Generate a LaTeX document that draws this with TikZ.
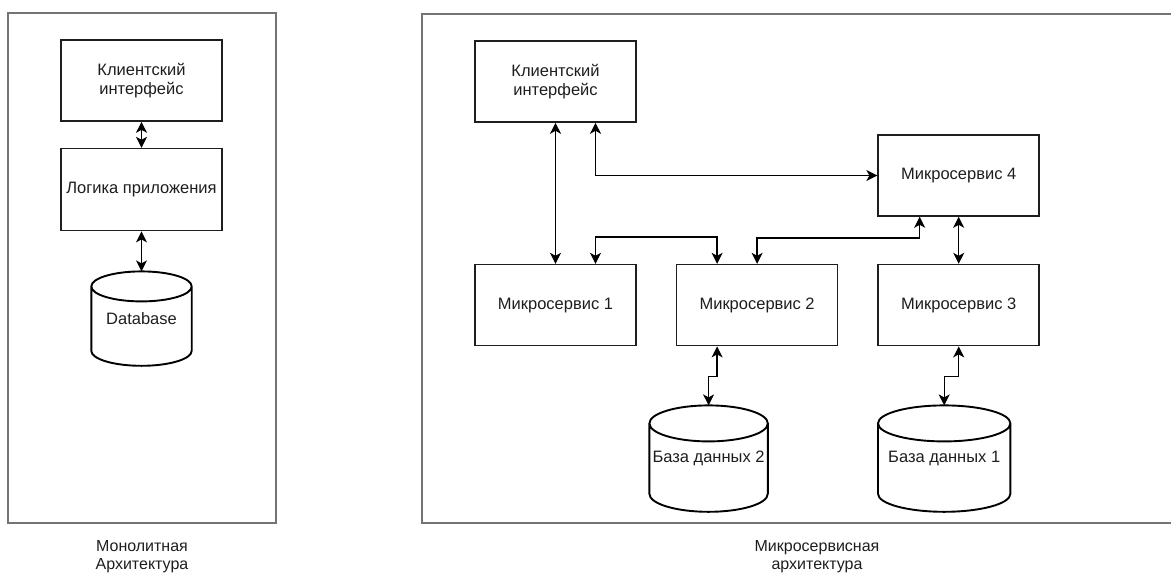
\documentclass[tikz,border=0pt]{standalone}
\usepackage{fontspec}
\setmainfont{Liberation Sans}
\usepackage{tikz}
\usetikzlibrary{arrows.meta, positioning, calc}
\usepackage{xcolor}
\definecolor{framegray}{HTML}{747474}
\definecolor{inkgray}{HTML}{1E1E1E}
\tikzset{
  panel/.style={
    rectangle, draw=framegray, line width=1.6pt, fill=white
  },
  svc/.style={
    rectangle, draw=inkgray, line width=1.6pt, fill=white,
    minimum width=161pt, minimum height=81pt, align=center,
    text=inkgray, font=\fontsize{16.5}{19}\selectfont
  },
  dbnode/.style={
    rectangle, minimum width=#1, align=center, inner sep=0pt,
    text=inkgray, font=\fontsize{16.5}{19}\selectfont
  },
  dbline/.style={draw=black, line width=1.9pt},
  caption/.style={
    align=center, text=inkgray, font=\fontsize{16}{18}\selectfont
  },
  link/.style={
    {Stealth[length=11pt, width=11pt, inset=3pt]}-{Stealth[length=11pt, width=11pt, inset=3pt]},
    line width=1.4pt, draw=black
  }
}
% cylinder drawn around a plain node: name, cap radius
\newcommand{\dbshape}[2]{%
  \draw[dbline] let \p1=(#1.west), \p2=(#1.east), \n1={(\x2-\x1)/2} in
    ([yshift=-#2]#1.north west) -- ([yshift=#2]#1.south west)
    arc[start angle=180, end angle=360, x radius=\n1*1pt, y radius=#2]
    -- ([yshift=-#2]#1.north east)
    ([yshift=-#2]#1.north) ellipse[x radius=\n1*1pt, y radius=#2];
}

\begin{document}
\begin{tikzpicture}[x=1pt, y=-1pt]
        \useasboundingbox (0,0) rectangle (1171,574);
        \node[panel, minimum width=268pt, minimum height=510pt] (mono) at (142,268) {};
        \node[panel, minimum width=760pt, minimum height=509pt] (micro) at (802,268.5) {};

        \node[svc] (cli) at (141.5,80.5) {Клиентский\\интерфейс};
        \node[svc, minimum height=82pt, below=26pt of cli] (logic) {Логика приложения};
        \node[dbnode=100pt, minimum height=94pt, below=40pt of logic] (db) {Database};
        \dbshape{db}{15pt}

        \node[svc] (rcli) at (555.5,81.5) {Клиентский\\интерфейс};
        \node[svc, below=141pt of rcli] (ms1) {Микросервис 1};
        \node[svc, right=39pt of ms1] (ms2) {Микросервис 2};
        \node[svc, right=39pt of ms2] (ms3) {Микросервис 3};
        \node[svc, above=47pt of ms3] (ms4) {Микросервис 4};
        \node[dbnode=118pt, minimum height=106pt, below=59pt of ms2, xshift=-48.5pt] (db2) {База данных 2};
        \node[dbnode=132pt, minimum height=106pt, below=59pt of ms3, xshift=-14.5pt] (db1) {База данных 1};
        \dbshape{db2}{18pt}
        \dbshape{db1}{18pt}

        \node[caption] (monocap) at (142,557) {Монолитная\\Архитектура};
        \node[caption] (microcap) at (817,557) {Микросервисная\\архитектура};

        \foreach \a/\b in {cli/logic, logic/db, rcli/ms1, ms4/ms3}{%
          \draw[link] (\a) -- (\b);}
        \draw[link] ([xshift=40pt]rcli.south) |- (ms4.west);
        \draw[link] ([xshift=40pt]ms1.north) -- ++(0,-27) -| ([xshift=-40pt]ms2.north);
        \draw[link] ([xshift=-39pt]ms4.south) -- ++(0,21) -| (ms2.north);
        \draw[link] ([xshift=-40pt]ms2.south) -- ++(0,30) -| (db2.north);
        \draw[link] (ms3.south) -- ++(0,30) -| (db1.north);
      \end{tikzpicture}
\end{document}
